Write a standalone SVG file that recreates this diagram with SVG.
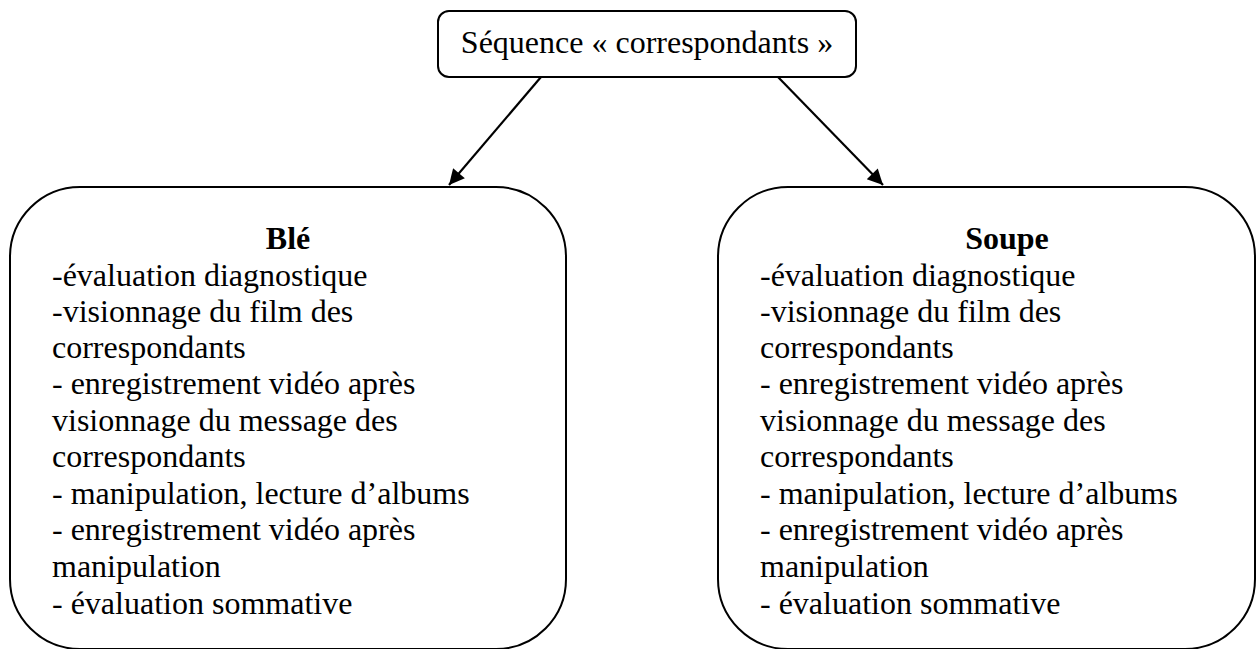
<svg xmlns="http://www.w3.org/2000/svg" width="1258" height="649" viewBox="0 0 1258 649">
<style>
.box{fill:#fff;stroke:#000;stroke-width:2}
.t{font-family:'Liberation Serif','DejaVu Serif',serif;font-size:32px;fill:#000}
.b{font-weight:bold;text-anchor:middle}
.c{stroke:#000;stroke-width:2.2;fill:none}
</style>
<defs>
<marker id="ah" viewBox="0 0 10 10" refX="10" refY="5" markerWidth="8" markerHeight="7" markerUnits="strokeWidth" orient="auto">
<path d="M0,0 L10,5 L0,10 z" fill="#000"/>
</marker>
</defs>
<rect width="1258" height="649" fill="#fff"/>
<g id="connectors">
<line class="c" x1="541" y1="77" x2="449" y2="185" marker-end="url(#ah)"/>
<line class="c" x1="778" y1="77" x2="883" y2="185" marker-end="url(#ah)"/>
</g>
<g id="top">
<rect class="box" x="438" y="11" width="418" height="66" rx="11"/>
<text class="t" x="647" y="53" text-anchor="middle">Séquence « correspondants »</text>
</g>
<g id="ble">
<rect class="box" x="10" y="187" width="556" height="462" rx="70"/>
<text class="t b" x="288" y="249">Blé</text>
<text class="t" x="52" y="286">-évaluation diagnostique</text>
<text class="t" x="52" y="322">-visionnage du film des</text>
<text class="t" x="52" y="358">correspondants</text>
<text class="t" x="52" y="394">- enregistrement vidéo après</text>
<text class="t" x="52" y="431">visionnage du message des</text>
<text class="t" x="52" y="467">correspondants</text>
<text class="t" x="52" y="504">- manipulation, lecture d’albums</text>
<text class="t" x="52" y="540">- enregistrement vidéo après</text>
<text class="t" x="52" y="577">manipulation</text>
<text class="t" x="52" y="614">- évaluation sommative</text>
</g>
<g id="soupe">
<rect class="box" x="718" y="187" width="537" height="462" rx="70"/>
<text class="t b" x="1007" y="249">Soupe</text>
<text class="t" x="760" y="286">-évaluation diagnostique</text>
<text class="t" x="760" y="322">-visionnage du film des</text>
<text class="t" x="760" y="358">correspondants</text>
<text class="t" x="760" y="394">- enregistrement vidéo après</text>
<text class="t" x="760" y="431">visionnage du message des</text>
<text class="t" x="760" y="467">correspondants</text>
<text class="t" x="760" y="504">- manipulation, lecture d’albums</text>
<text class="t" x="760" y="540">- enregistrement vidéo après</text>
<text class="t" x="760" y="577">manipulation</text>
<text class="t" x="760" y="614">- évaluation sommative</text>
</g>
</svg>
